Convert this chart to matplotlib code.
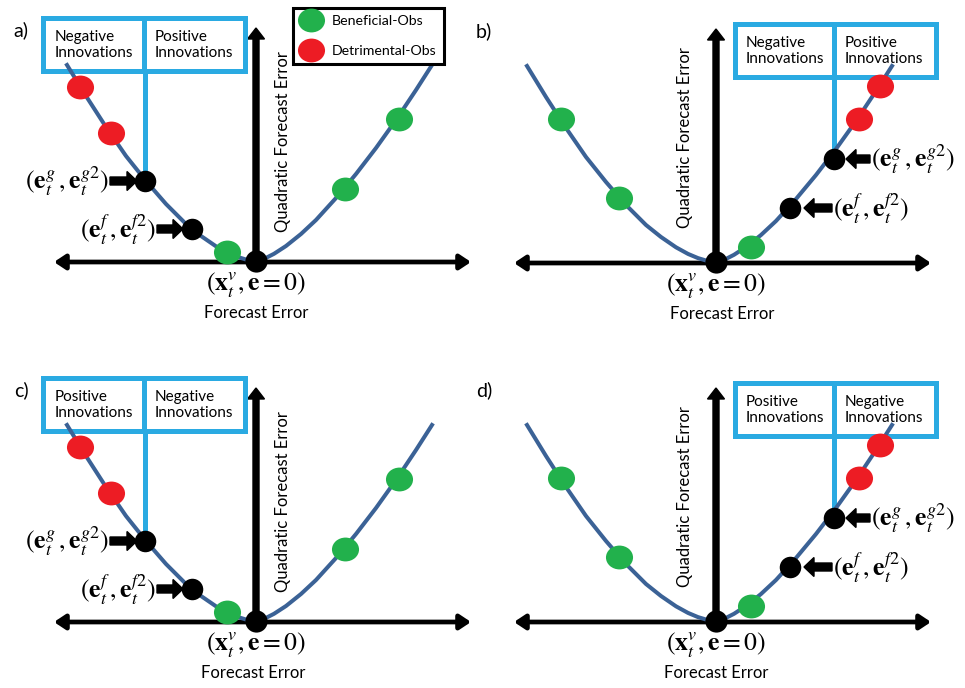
import matplotlib
matplotlib.use('Agg')
import matplotlib.pyplot as plt
import matplotlib.patches as patches
from matplotlib.path import Path
from matplotlib.transforms import Affine2D
from matplotlib.lines import Line2D

plt.rcParams['font.family'] = ['Lato', 'DejaVu Sans']
plt.rcParams['mathtext.fontset'] = 'stix'

#------------------------------
# curve (units = px, origin at the vertex)
curve_x = [-189, -170, -150, -130, -110, -90, -70, -55, -40, -28, -18, -9, 0,
	9, 18, 30, 45, 60, 80, 100, 120, 140, 160, 176]
curve_y = [196, 165, 134, 105, 80, 57, 37, 25, 14.7, 8.1, 3.9, 1.2, 0,
	2.6, 7.2, 15, 27, 41, 63, 87, 113, 141, 171, 196]

# panels a) and c): detrimental obs on the left branch
ac_green_x = [-29, 89, 143]
ac_green_y = [9, 72, 142]
ac_red_x = [-176, -145]
ac_red_y = [174, 128]
ac_black_x = [-111, -64]      # (e^g, e^g2), (e^f, e^f2)
ac_black_y = [80, 32]

# panels b) and d): detrimental obs on the right branch
bd_green_x = [-155, -97, 35]
bd_green_y = [143, 64, 15]
bd_red_x = [164, 143]
bd_red_y = [176, 143]
bd_black_x = [118, 74]
bd_black_y = [103, 54]

panel_tags = ['a)', 'b)', 'c)', 'd)']
box_left = ['Negative\nInnovations', 'Negative\nInnovations', 'Positive\nInnovations', 'Positive\nInnovations']
box_right = ['Positive\nInnovations', 'Positive\nInnovations', 'Negative\nInnovations', 'Negative\nInnovations']
legend_labels = ['Beneficial-Obs', 'Detrimental-Obs']
lab_g = r'$(\mathbf{e}_t^g\,,\mathbf{e}_t^{g2})$'
lab_f = r'$(\mathbf{e}_t^f\,,\mathbf{e}_t^{f2})$'
lab_0 = r'$(\mathbf{x}_t^v,\mathbf{e}=0)$'
#------------------------------
GREEN = '#22b14c'
RED = '#ed1c24'
BLUE = '#2aaae2'
CURVE = '#3b6296'
W, H = 965., 688.
ell = Path.unit_circle().transformed(Affine2D().scale(1.0, 0.88))

# origin (vertex) of each panel in picture px
origins = [(256, 261), (716, 262), (256, 621), (716, 621)]
fe_dx = [0, 6, -3, 0]

fig = plt.figure(figsize=(W/100, H/100), dpi=100)

for i in range(4):
	col, row = i % 2, i // 2
	ox, oy = origins[i]
	ax = fig.add_axes([col*0.5, 0.5 - row*0.5, 0.5, 0.5])
	ax.set_xlim(col*W/2 - ox, (col+1)*W/2 - ox)
	ax.set_ylim(oy - (row+1)*H/2, oy - row*H/2)
	ax.axis('off')
	left = (col == 0)
	if left:
		gx, gy, rx, ry, bx, by = ac_green_x, ac_green_y, ac_red_x, ac_red_y, ac_black_x, ac_black_y
	else:
		gx, gy, rx, ry, bx, by = bd_green_x, bd_green_y, bd_red_x, bd_red_y, bd_black_x, bd_black_y

	# axes arrows
	ax.annotate('', xy=(215, -1), xytext=(-202, -1),
		arrowprops=dict(arrowstyle='<|-|>,head_length=0.6,head_width=0.4', lw=3.4,
		color='black', shrinkA=0, shrinkB=0, mutation_scale=11), zorder=1)
	ax.arrow(0, 0, 0, 233, width=6, head_width=17, head_length=11,
		length_includes_head=True, fc='black', ec='black', zorder=3)

	# innovation box
	if left:
		bx0, bx1, by0, by1, xdiv, tx1, tx2, ty = -213, -11, 190, 243, -112, -201, -101, 216
	else:
		bx0, bx1, by0, by1, xdiv, tx1, tx2, ty = 19, 220, 185, 238, 118, 30, 129, 211
	ax.add_patch(patches.Rectangle((bx0, by0), bx1-bx0, by1-by0, fc='white', ec=BLUE, lw=3.6, zorder=4))
	ax.plot([xdiv, xdiv], [by0, by1], c=BLUE, lw=3.6, zorder=4)
	ax.plot([bx[0], bx[0]], [by0, by[0]], c=BLUE, lw=3.6, zorder=4)
	ax.text(tx1, ty, box_left[i], fontsize=11, ha='left', va='center', linespacing=1.2, zorder=5)
	ax.text(tx2, ty, box_right[i], fontsize=11, ha='left', va='center', linespacing=1.2, zorder=5)

	# curve and observations
	ax.plot(curve_x, curve_y, '-', c=CURVE, lw=2.9, zorder=6)
	ax.plot(gx, gy, ls='none', marker=ell, ms=19.5, mfc=GREEN, mec='none', zorder=7)
	ax.plot(rx, ry, ls='none', marker=ell, ms=19.5, mfc=RED, mec='none', zorder=7)
	ax.plot(bx, by, ls='none', marker='o', ms=15.5, mfc='black', mec='none', zorder=7)
	ax.plot([0], [0], ls='none', marker='o', ms=16, mfc='black', mec='none', zorder=7)

	# pointers to e^g and e^f
	if left:
		ax.arrow(-146, by[0], 27, 0, width=8, head_width=19, head_length=10, length_includes_head=True, fc='k', ec='k', zorder=7)
		ax.arrow(-99, by[1], 26, 0, width=8, head_width=19, head_length=10, length_includes_head=True, fc='k', ec='k', zorder=7)
		ax.text(-147, by[0] - 1, lab_g, fontsize=18.5, ha='right', va='center')
		ax.text(-100, by[1] - 1, lab_f, fontsize=18.5, ha='right', va='center')
	else:
		ax.arrow(154, by[0], -24, 0, width=8, head_width=19, head_length=10, length_includes_head=True, fc='k', ec='k', zorder=7)
		ax.arrow(116, by[1], -28, 0, width=8, head_width=19, head_length=10, length_includes_head=True, fc='k', ec='k', zorder=7)
		ax.text(155, by[0] - 1, lab_g, fontsize=18.5, ha='left', va='center')
		ax.text(117, by[1] - 1, lab_f, fontsize=18.5, ha='left', va='center')

	# labels
	ax.text(0, -24, lab_0, fontsize=18.5, ha='center', va='center')
	ax.text(fe_dx[i], -52, 'Forecast Error', fontsize=12, ha='center', va='center')
	qx = 27 if left else -31
	qy = 119 if left else 124
	ax.text(qx, qy, 'Quadratic Forecast Error', fontsize=12, rotation=90, ha='center', va='center')
	ax.text(-235 if left else -232, 231, panel_tags[i], fontsize=14, ha='center', va='center')

	if i == 0:
		handles = [Line2D([], [], ls='none', marker=ell, ms=19.5, mfc=GREEN, mec='none'),
			Line2D([], [], ls='none', marker=ell, ms=19.5, mfc=RED, mec='none')]
		leg = ax.legend(handles, legend_labels, loc='upper left', bbox_to_anchor=(37, 253),
			bbox_transform=ax.transData, fontsize=10.2, frameon=True, fancybox=False,
			edgecolor='black', framealpha=1, borderpad=0.5, labelspacing=1.25,
			handlelength=1.6, handletextpad=0.65, borderaxespad=0)
		leg.get_frame().set_linewidth(2.2)
		leg.set_zorder(8)

fig.savefig('out.png', dpi=100)
